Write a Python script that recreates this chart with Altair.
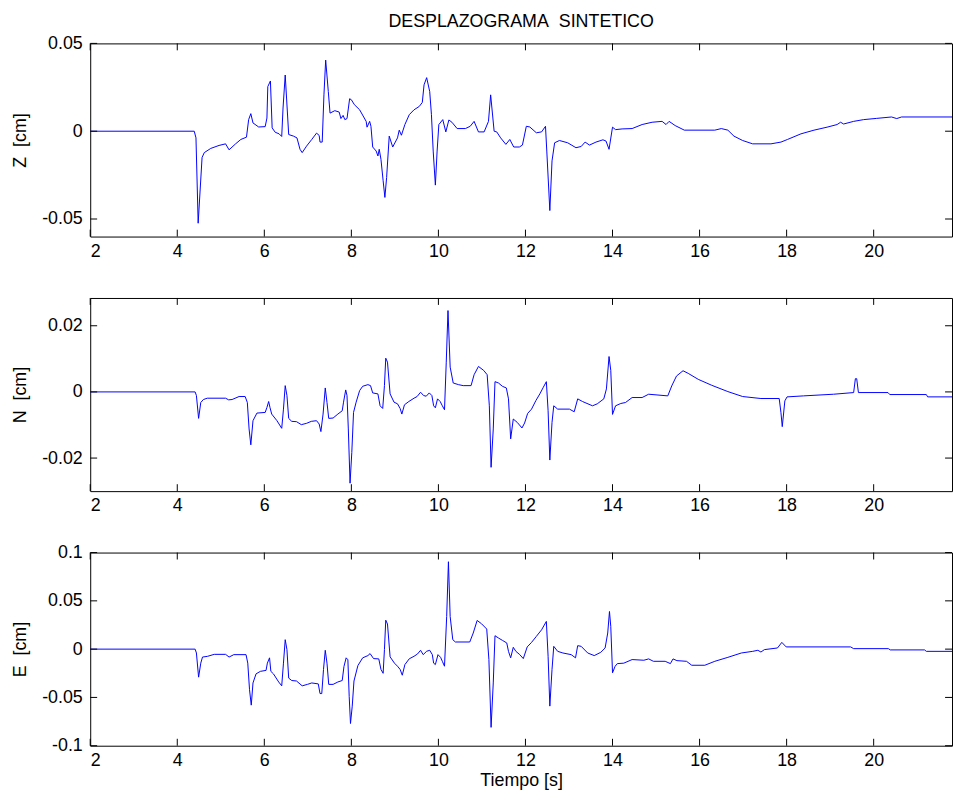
import altair as alt
import pandas as pd

FONT = "Liberation Sans"
NB = "\u00a0"

z_t = [2.0, 4.39, 4.43, 4.48, 4.57, 4.62, 4.77, 4.96, 5.11, 5.19, 5.34, 5.46, 5.59, 5.64, 5.69, 5.74, 5.87, 6.02, 6.06, 6.08, 6.14, 6.18, 6.25, 6.34, 6.40, 6.43, 6.48, 6.56, 6.67, 6.75, 6.82, 6.87, 6.97, 7.09, 7.20, 7.26, 7.28, 7.33, 7.37, 7.41, 7.47, 7.51, 7.62, 7.72, 7.76, 7.81, 7.85, 7.90, 7.96, 8.00, 8.07, 8.19, 8.34, 8.36, 8.42, 8.45, 8.49, 8.57, 8.61, 8.64, 8.68, 8.73, 8.77, 8.81, 8.87, 8.95, 9.06, 9.10, 9.15, 9.23, 9.33, 9.44, 9.56, 9.63, 9.67, 9.73, 9.80, 9.84, 9.88, 9.93, 9.97, 10.01, 10.10, 10.17, 10.24, 10.31, 10.43, 10.62, 10.73, 10.82, 10.92, 11.05, 11.15, 11.20, 11.28, 11.34, 11.43, 11.55, 11.64, 11.73, 11.86, 11.93, 12.02, 12.10, 12.25, 12.37, 12.46, 12.49, 12.56, 12.61, 12.67, 12.78, 12.97, 13.16, 13.28, 13.37, 13.47, 13.62, 13.78, 13.85, 13.92, 14.00, 14.07, 14.22, 14.45, 14.68, 14.91, 15.14, 15.23, 15.30, 15.44, 15.65, 16.35, 16.50, 16.65, 16.79, 16.99, 17.22, 17.64, 17.87, 18.02, 18.33, 18.63, 18.93, 19.16, 19.24, 19.31, 19.54, 19.77, 20.07, 20.41, 20.53, 20.64, 21.84]
z_v = [0, 0, -0.0038, -0.0524, -0.015, -0.0122, -0.0098, -0.0081, -0.0072, -0.0106, -0.0072, -0.0047, -0.0034, 0.0066, 0.010, 0.0047, 0.0024, 0.0026, 0.0075, 0.0254, 0.0286, 0.0019, -0.0006, -0.0015, -0.003, 0.0132, 0.032, -0.0019, -0.0028, -0.0038, -0.0103, -0.0122, -0.0085, -0.0047, -0.0011, -0.0024, -0.0062, -0.0062, 0.0207, 0.0405, 0.0226, 0.0103, 0.0117, 0.0109, 0.0072, 0.009, 0.0066, 0.0072, 0.0185, 0.0179, 0.0151, 0.0122, 0.0056, 0.0023, 0.0056, 0.0028, -0.009, -0.0113, -0.0141, -0.0103, -0.016, -0.0282, -0.0377, -0.0264, -0.0028, -0.009, -0.0038, 0.0006, -0.0023, 0.0038, 0.0094, 0.0122, 0.0141, 0.0164, 0.0264, 0.0305, 0.0226, 0.0094, -0.0113, -0.0307, -0.0113, 0.0038, 0.0066, -0.0004, 0.0064, 0.0051, 0.0015, 0.0015, 0.0028, 0.0056, -0.0004, -0.0004, 0.0056, 0.0207, 0.0, -0.0004, -0.0038, -0.0075, -0.0047, -0.009, -0.009, -0.0079, 0.0028, 0.0024, -0.0009, -0.0004, 0.0028, -0.0113, -0.0452, -0.0169, -0.0066, -0.0053, -0.0066, -0.0094, -0.0087, -0.0062, -0.0079, -0.0062, -0.0049, -0.0056, -0.0103, 0.0023, 0.0009, 0.0013, 0.0015, 0.0038, 0.0051, 0.0056, 0.0038, 0.0056, 0.0032, 0.0006, 0.0006, 0.0015, 0.0006, -0.0028, -0.0053, -0.0072, -0.0072, -0.0062, -0.0047, -0.0015, 0.0006, 0.0023, 0.0038, 0.0051, 0.0041, 0.0056, 0.0066, 0.0073, 0.0081, 0.0072, 0.0081, 0.0081]

n_t = [2.0, 4.41, 4.44, 4.49, 4.54, 4.60, 4.69, 5.11, 5.18, 5.26, 5.42, 5.56, 5.61, 5.65, 5.69, 5.74, 5.83, 6.02, 6.06, 6.10, 6.13, 6.17, 6.29, 6.40, 6.44, 6.48, 6.52, 6.56, 6.63, 6.74, 6.85, 6.97, 7.08, 7.20, 7.26, 7.30, 7.35, 7.40, 7.44, 7.48, 7.58, 7.69, 7.79, 7.82, 7.87, 7.90, 7.93, 7.97, 8.01, 8.05, 8.11, 8.19, 8.26, 8.38, 8.44, 8.49, 8.61, 8.66, 8.72, 8.76, 8.79, 8.83, 8.89, 8.98, 9.06, 9.12, 9.16, 9.22, 9.32, 9.44, 9.51, 9.59, 9.66, 9.72, 9.79, 9.85, 9.89, 9.93, 9.98, 10.04, 10.09, 10.14, 10.18, 10.22, 10.27, 10.34, 10.46, 10.57, 10.75, 10.82, 10.92, 11.04, 11.12, 11.17, 11.21, 11.26, 11.30, 11.38, 11.47, 11.56, 11.61, 11.66, 11.72, 11.81, 11.92, 11.98, 12.05, 12.14, 12.24, 12.33, 12.41, 12.48, 12.52, 12.56, 12.61, 12.65, 12.74, 13.01, 13.12, 13.20, 13.31, 13.54, 13.65, 13.80, 13.86, 13.92, 13.96, 14.00, 14.07, 14.19, 14.30, 14.45, 14.68, 14.83, 15.27, 15.36, 15.47, 15.62, 15.74, 15.97, 16.28, 16.65, 16.99, 17.41, 17.83, 17.87, 17.90, 17.96, 18.01, 18.39, 19.08, 19.54, 19.58, 19.61, 19.65, 20.33, 20.37, 21.21, 21.24, 21.84]
n_v = [0, 0, -0.0011, -0.008, -0.0032, -0.0023, -0.0019, -0.0019, -0.0024, -0.0023, -0.0014, -0.0014, -0.0032, -0.0112, -0.016, -0.0087, -0.0064, -0.0062, -0.0047, -0.0029, -0.0047, -0.0067, -0.0087, -0.011, -0.0052, 0.0019, -0.0011, -0.008, -0.0089, -0.009, -0.0099, -0.0095, -0.0089, -0.0087, -0.0097, -0.012, -0.0067, 0.0012, -0.0032, -0.008, -0.0079, -0.0067, -0.0057, -0.0031, 0.0006, -0.0011, -0.0112, -0.0276, -0.0183, -0.0062, -0.0031, 0.0004, 0.0017, 0.0022, 0.0019, -0.0003, -0.0006, -0.0042, -0.005, 0.0019, 0.0102, 0.009, -0.0006, -0.0031, -0.0036, -0.005, -0.0067, -0.0039, -0.0029, -0.0019, -0.0014, -0.0001, -0.0011, -0.0013, -0.0003, -0.0011, -0.0042, -0.0048, -0.0021, -0.0029, -0.0042, -0.0054, 0.009, 0.0246, 0.0075, 0.0027, 0.0022, 0.0019, 0.0019, 0.0052, 0.0077, 0.0065, 0.0052, -0.0042, -0.0228, -0.0112, 0.0031, 0.0027, 0.0017, 0.0012, -0.0021, -0.0142, -0.0082, -0.0092, -0.0109, -0.0094, -0.0065, -0.0052, -0.0026, -0.0006, 0.0014, 0.0031, -0.0057, -0.0206, -0.0092, -0.0042, -0.0052, -0.0052, -0.006, -0.0021, -0.0029, -0.0042, -0.0036, -0.0021, 0.0009, 0.0107, 0.0065, -0.0068, -0.0042, -0.0035, -0.0032, -0.0017, -0.0017, -0.0007, -0.0012, 0.0018, 0.0048, 0.0064, 0.0056, 0.0038, 0.002, 0.0001, -0.0014, -0.002, -0.002, -0.0063, -0.0105, -0.0027, -0.0015, -0.0012, -0.0007, -0.0002, 0.004, 0.004, -0.0002, -0.0002, -0.0008, -0.0008, -0.0015, -0.0015]

e_t = [2.0, 4.41, 4.44, 4.49, 4.54, 4.58, 4.69, 4.85, 5.11, 5.19, 5.30, 5.58, 5.62, 5.66, 5.70, 5.74, 5.81, 5.91, 6.04, 6.07, 6.12, 6.15, 6.21, 6.33, 6.40, 6.44, 6.48, 6.52, 6.56, 6.63, 6.74, 6.87, 6.99, 7.09, 7.24, 7.28, 7.32, 7.36, 7.40, 7.44, 7.48, 7.58, 7.69, 7.79, 7.83, 7.88, 7.92, 7.95, 7.98, 8.02, 8.06, 8.15, 8.26, 8.38, 8.43, 8.51, 8.63, 8.68, 8.73, 8.76, 8.79, 8.83, 8.89, 8.99, 9.06, 9.12, 9.17, 9.23, 9.33, 9.44, 9.52, 9.59, 9.65, 9.73, 9.80, 9.86, 9.89, 9.93, 9.99, 10.05, 10.09, 10.14, 10.19, 10.23, 10.27, 10.33, 10.39, 10.72, 10.80, 10.89, 10.99, 11.11, 11.16, 11.21, 11.26, 11.30, 11.38, 11.47, 11.57, 11.61, 11.66, 11.72, 11.78, 11.87, 11.95, 12.04, 12.14, 12.25, 12.37, 12.48, 12.52, 12.56, 12.61, 12.65, 12.74, 12.86, 13.05, 13.15, 13.20, 13.28, 13.43, 13.58, 13.73, 13.83, 13.89, 13.93, 13.96, 14.00, 14.06, 14.11, 14.26, 14.45, 14.72, 14.83, 14.94, 15.21, 15.33, 15.39, 15.48, 15.70, 15.82, 16.12, 16.35, 16.65, 16.96, 17.22, 17.34, 17.41, 17.49, 17.79, 17.89, 17.99, 19.47, 19.54, 20.34, 20.38, 21.17, 21.21, 21.84]
e_v = [0, 0, -0.004, -0.029, -0.0145, -0.0082, -0.0075, -0.0054, -0.0054, -0.0082, -0.0057, -0.0057, -0.0145, -0.042, -0.058, -0.035, -0.0256, -0.023, -0.022, -0.0145, -0.009, -0.023, -0.0256, -0.034, -0.038, -0.0145, 0.0098, -0.0005, -0.03, -0.0325, -0.033, -0.038, -0.0365, -0.035, -0.036, -0.046, -0.046, -0.021, -0.0012, -0.0145, -0.0365, -0.0365, -0.034, -0.0325, -0.018, -0.009, -0.011, -0.049, -0.077, -0.059, -0.033, -0.017, -0.009, -0.0067, -0.0046, -0.0098, -0.0101, -0.021, -0.025, -0.0005, 0.030, 0.026, -0.008, -0.0145, -0.0177, -0.021, -0.027, -0.016, -0.010, -0.0074, -0.005, -0.0012, -0.0057, -0.0022, -0.0012, -0.0057, -0.0145, -0.016, -0.0057, -0.0085, -0.0126, -0.0177, 0.0338, 0.0905, 0.0338, 0.0098, 0.0074, 0.0074, 0.0167, 0.0297, 0.0263, 0.0208, -0.0108, -0.081, -0.035, 0.0139, 0.0115, 0.0091, 0.0064, -0.0023, -0.009, 0.0019, -0.0023, -0.0057, -0.0098, 0.0023, 0.007, 0.0132, 0.020, 0.0287, -0.0074, -0.059, -0.021, 0.0029, -0.0023, -0.004, -0.0057, -0.009, 0.0036, 0.0029, -0.004, -0.0067, -0.0033, 0.0012, 0.0167, 0.039, 0.0235, -0.0245, -0.0177, -0.015, -0.0145, -0.0108, -0.0115, -0.0101, -0.0126, -0.0126, -0.015, -0.0101, -0.0119, -0.0126, -0.0167, -0.0167, -0.0126, -0.0085, -0.004, -0.0023, -0.0012, -0.003, -0.0005, 0.0012, 0.007, 0.0023, 0.0023, 0.0005, 0.0005, -0.0008, -0.0008, -0.0023, -0.0023]

x_ticks = [2, 4, 6, 8, 10, 12, 14, 16, 18, 20]
x_domain = [2, 21.80]
z_ticks = [-0.05, 0, 0.05]
n_ticks = [-0.02, 0, 0.02]
e_ticks = [-0.1, -0.05, 0, 0.05, 0.1]
z_domain = [-0.06, 0.05]
n_domain = [-0.030, 0.0284]
e_domain = [-0.1, 0.1]

W = 870
H = 195
TL = 7
LABEL_EXPR = "replace(format(datum.value, '.2~f'), '\u2212', '-')"


def panel(t, v, ydom, yticks, ytitle, show_x_title=False, title=None):
    df = pd.DataFrame({"t": t, "v": v})
    xs = alt.Scale(domain=x_domain, nice=False, zero=False)
    ys = alt.Scale(domain=ydom, nice=False, zero=False)
    xaxis = alt.Axis(values=x_ticks, format="d", labelPadding=6,
                     titlePadding=2)
    yaxis = alt.Axis(values=yticks, labelExpr=LABEL_EXPR, labelPadding=8,
                     minExtent=50, maxExtent=50, titlePadding=11)
    xtitle = "Tiempo [s]" if show_x_title else None

    def xenc():
        return alt.X("t:Q", scale=xs, axis=xaxis, title=xtitle)

    def yenc():
        return alt.Y("v:Q", scale=ys, axis=yaxis, title=ytitle)

    line = alt.Chart(df).mark_line(color="#0000ff", strokeWidth=1, clip=True).encode(
        x=xenc(), y=yenc())
    xt = pd.DataFrame({"t": x_ticks})
    yt = pd.DataFrame({"v": yticks})
    bot = alt.Chart(xt).mark_rule(color="black", strokeWidth=1).encode(
        x=xenc(), y=alt.value(H), y2=alt.value(H - TL))
    top = alt.Chart(xt).mark_rule(color="black", strokeWidth=1).encode(
        x=xenc(), y=alt.value(0), y2=alt.value(TL))
    lft = alt.Chart(yt).mark_rule(color="black", strokeWidth=1).encode(
        y=yenc(), x=alt.value(0), x2=alt.value(TL))
    rgt = alt.Chart(yt).mark_rule(color="black", strokeWidth=1).encode(
        y=yenc(), x=alt.value(W - TL), x2=alt.value(W))
    ch = alt.layer(line, bot, top, lft, rgt)
    if title:
        ch = ch.properties(width=W, height=H, title=alt.TitleParams(
            title, fontSize=18, font=FONT, fontWeight="normal", anchor="middle",
            frame="group", offset=4, color="black"))
    else:
        ch = ch.properties(width=W, height=H)
    return ch


p1 = panel(z_t, z_v, z_domain, z_ticks, "Z" + NB + NB + "[cm]",
           title="DESPLAZOGRAMA" + NB + NB + "SINTETICO")
p2 = panel(n_t, n_v, n_domain, n_ticks, "N" + NB + NB + "[cm]")
p3 = panel(e_t, e_v, e_domain, e_ticks, "E" + NB + NB + "[cm]", show_x_title=True)

chart = alt.vconcat(p1, p2, p3, spacing=62, bounds="flush").properties(
    padding={"left": 3, "top": 0, "right": 0, "bottom": 0},
    background="white",
).configure_view(
    stroke="black", strokeWidth=1
).configure_axis(
    domain=False, ticks=False, grid=False,
    labelFont=FONT, labelFontSize=18, labelColor="black",
    titleFont=FONT, titleFontSize=18, titleFontWeight="normal", titleColor="black",
)

chart.save("out.html", embed_options={"renderer": "svg", "actions": False})
